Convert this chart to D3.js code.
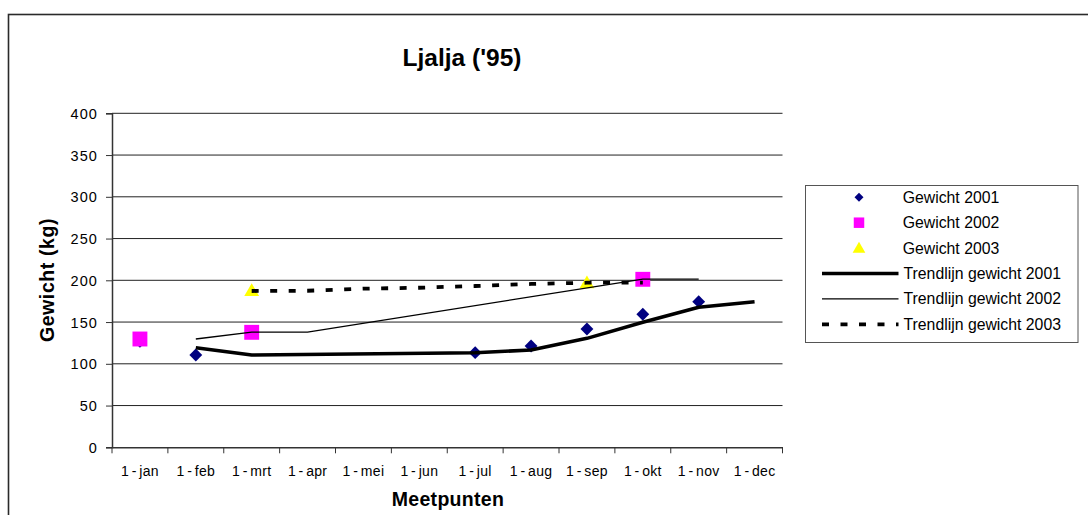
<!DOCTYPE html>
<html>
<head>
<meta charset="utf-8">
<script src="https://cdn.jsdelivr.net/npm/d3@7"></script>
<style>
  html, body { margin: 0; padding: 0; background: #fff; }
  svg { display: block; font-family: "Liberation Sans", Arial, sans-serif; }
</style>
</head>
<body>
<svg id="chart" width="1088" height="515"></svg>
<script>
const months = ["1-jan","1-feb","1-mrt","1-apr","1-mei","1-jun","1-jul","1-aug","1-sep","1-okt","1-nov","1-dec"];
const gewicht2001 = [127, 110.5, null, null, null, null, 113.3, 121.3, 141.7, 159.3, 174.4, null];
const gewicht2002 = [129.7, null, 137.7, null, null, null, null, null, null, 201.2, null, null];
const gewicht2003 = [null, null, 187.4, null, null, null, null, null, 196.8, null, null, null];
const trend2001 = [null, 119.3, 110.5, null, null, null, 113.3, 116.5, 130.5, 149.7, 167.7, 174.4];
const trend2002 = [null, 129.7, 138, 138, null, null, null, null, null, 201.5, 201.5, null];
const trend2003 = [null, null, 187.2, 187.5, 190, 191.1, 193.2, 195.6, 197.1, 197.3, null, null];
const yTicks = [0, 50, 100, 150, 200, 250, 300, 350, 400];
const title = "Ljalja ('95)";
const yTitle = "Gewicht (kg)";
const xTitle = "Meetpunten";
const legendLabels = ["Gewicht 2001","Gewicht 2002","Gewicht 2003","Trendlijn gewicht 2001","Trendlijn gewicht 2002","Trendlijn gewicht 2003"];

const svg = d3.select("#chart");
const L = 112, R = 782.5, T = 113.3, B = 447.3;

// outer chart border (only left and top visible)
svg.append("rect").attr("x", 8.5).attr("y", 14.5).attr("width", 1300).attr("height", 700)
  .attr("fill", "none").attr("stroke", "#2a2a2a").attr("stroke-width", 1.6);

const x = d3.scaleBand().domain(months).range([L, R]).padding(0);
const cx = m => x(m) + x.bandwidth() / 2;
const y = d3.scaleLinear().domain([0, 400]).range([B, T]);

// gridlines
svg.append("g").selectAll("line").data(yTicks.filter(d => d > 0)).join("line")
  .attr("x1", L).attr("x2", R).attr("y1", d => y(d)).attr("y2", d => y(d))
  .attr("stroke", "#222").attr("stroke-width", 1);

// y axis
const yAxis = svg.append("g").attr("transform", `translate(${L},0)`)
  .call(d3.axisLeft(y).tickValues(yTicks).tickSize(6).tickPadding(8).tickFormat(d3.format("d")));
yAxis.select(".domain").attr("stroke", "#333").attr("stroke-width", 1.5);
yAxis.selectAll(".tick line").attr("stroke", "#333").attr("stroke-width", 1);
yAxis.selectAll(".tick text").attr("font-size", 14.5).attr("letter-spacing", 1.1)
  .attr("fill", "#000").attr("font-family", "Liberation Sans, Arial, sans-serif").attr("dy", "0.35em");

// x axis (labels at category centres)
const xAxis = svg.append("g").attr("transform", `translate(0,${B})`)
  .call(d3.axisBottom(x).tickSize(0).tickPadding(0));
xAxis.select(".domain").attr("stroke", "#333").attr("stroke-width", 1.5);
xAxis.selectAll(".tick text").each(function(d) {
  const t = d3.select(this);
  const parts = d.split("-");
  t.text(null).attr("font-size", 14).attr("letter-spacing", 0.3).attr("fill", "#000")
    .attr("font-family", "Liberation Sans, Arial, sans-serif")
    .attr("dy", null).attr("y", 28.3);
  t.append("tspan").text(parts[0]);
  t.append("tspan").attr("dx", 2.6).text("-");
  t.append("tspan").attr("dx", 2.6).text(parts[1]);
});
// tick marks between categories
const boundaries = months.map(m => x(m)).concat([R]);
svg.append("g").selectAll("line").data(boundaries).join("line")
  .attr("x1", d => d).attr("x2", d => d).attr("y1", B).attr("y2", B + 6)
  .attr("stroke", "#333").attr("stroke-width", 1);

// titles
svg.append("text").attr("x", 462).attr("y", 66).attr("text-anchor", "middle")
  .attr("font-size", 24.5).attr("font-weight", "bold").text(title);
svg.append("text").attr("transform", `translate(54,280) rotate(-90)`).attr("text-anchor", "middle")
  .attr("font-size", 19.5).attr("font-weight", "bold").attr("letter-spacing", 0.6).text(yTitle);
svg.append("text").attr("x", 448).attr("y", 506).attr("text-anchor", "middle")
  .attr("font-size", 19.5).attr("font-weight", "bold").attr("letter-spacing", 0.3).text(xTitle);

// markers
const diamondType = { draw(ctx, size) { const r = Math.sqrt(size) / 2; ctx.moveTo(0, -r); ctx.lineTo(r, 0); ctx.lineTo(0, r); ctx.lineTo(-r, 0); ctx.closePath(); } };
const pts = arr => months.map((m, i) => ({ m, v: arr[i] })).filter(d => d.v !== null);
const diamond = d3.symbol().type(diamondType).size(165);
const square = d3.symbol().type(d3.symbolSquare).size(222);
const triangle = d3.symbol().type(d3.symbolTriangle).size(95);

const markers = svg.append("g");
markers.selectAll(".d2001").data(pts(gewicht2001)).join("path")
  .attr("transform", d => `translate(${cx(d.m)},${y(d.v)})`).attr("d", diamond).attr("fill", "#000080");
markers.selectAll(".d2002").data(pts(gewicht2002)).join("path")
  .attr("transform", d => `translate(${cx(d.m)},${y(d.v)})`).attr("d", square).attr("fill", "#ff00ff");
markers.selectAll(".d2003").data(pts(gewicht2003)).join("path")
  .attr("transform", d => `translate(${cx(d.m)},${y(d.v) + 1})`).attr("d", triangle).attr("fill", "#ffff00");

// trendlines
const line = d3.line().x(d => cx(d.m)).y(d => y(d.v));
svg.append("path").datum(pts(trend2001)).attr("d", line).attr("fill", "none")
  .attr("stroke", "#000").attr("stroke-width", 3.5).attr("stroke-linejoin", "round");
svg.append("path").datum(pts(trend2002)).attr("d", line).attr("fill", "none")
  .attr("stroke", "#000").attr("stroke-width", 1.3);
svg.append("path").datum(pts(trend2003)).attr("d", line).attr("fill", "none")
  .attr("stroke", "#000").attr("stroke-width", 3.8).attr("stroke-dasharray", "7,11.5");

// legend
const lg = svg.append("g");
lg.append("rect").attr("x", 805.5).attr("y", 185.5).attr("width", 272.5).attr("height", 157)
  .attr("fill", "#fff").attr("stroke", "#555").attr("stroke-width", 1);
const rowY = i => 197.3 + i * 25.4;
const symX = 859;
lg.append("path").attr("transform", `translate(${symX},${rowY(0)})`)
  .attr("d", d3.symbol().type(diamondType).size(81)).attr("fill", "#000080");
lg.append("path").attr("transform", `translate(${symX},${rowY(1)})`)
  .attr("d", d3.symbol().type(d3.symbolSquare).size(110)).attr("fill", "#ff00ff");
lg.append("path").attr("transform", `translate(${symX},${rowY(2) + 1})`)
  .attr("d", d3.symbol().type(d3.symbolTriangle).size(70)).attr("fill", "#ffff00");
const lineStyles = [{w: 3.5, dash: null}, {w: 1.3, dash: null}, {w: 3.8, dash: "7,11.5"}];
lineStyles.forEach((s, k) => {
  lg.append("line").attr("x1", 822).attr("x2", 898.5).attr("y1", rowY(3 + k)).attr("y2", rowY(3 + k))
    .attr("stroke", "#000").attr("stroke-width", s.w).attr("stroke-dasharray", s.dash);
});
lg.selectAll("text.lbl").data(legendLabels).join("text").attr("class", "lbl")
  .attr("x", (d, i) => i < 3 ? 902.7 : 903.5).attr("y", (d, i) => rowY(i)).attr("dy", "0.35em")
  .attr("font-size", 15.8).attr("fill", "#000").text(d => d);
</script>
</body>
</html>
